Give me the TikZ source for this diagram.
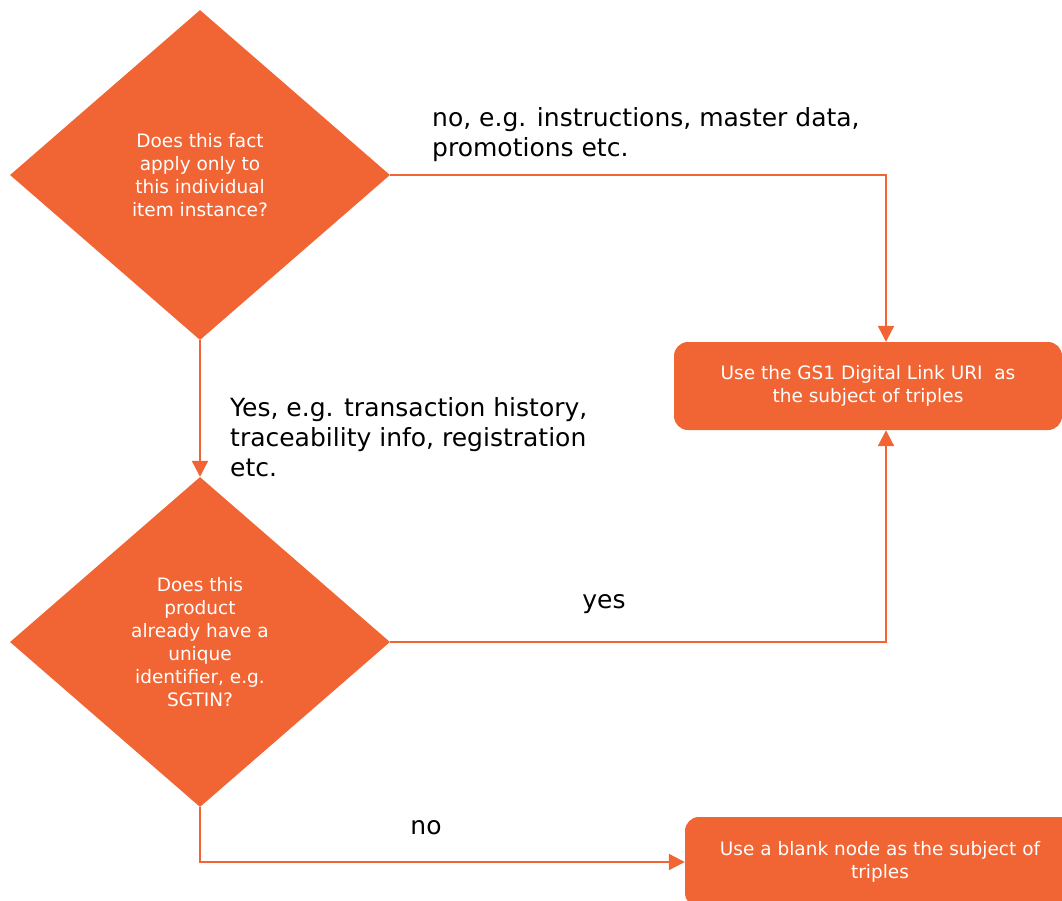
\documentclass[tikz,border=0pt]{standalone}
\usepackage{fontspec}
\setmainfont{DejaVu Sans}
\usepackage{tikz}
\usetikzlibrary{shapes.geometric, arrows.meta, positioning}
\definecolor{gsOrange}{RGB}{241, 101, 53}

\begin{document}
\begin{tikzpicture}[
  x=1pt, y=-1pt,
  decision/.style={
    diamond, fill=gsOrange, draw=none, inner sep=0pt,
    minimum width=380pt, minimum height=330pt,
    align=center, text=white, font=\fontsize{18.5}{23}\selectfont
  },
  outcome/.style={
    rectangle, rounded corners=14pt, fill=gsOrange, draw=none,
    minimum width=388pt, minimum height=88pt,
    align=center, text=white, font=\fontsize{18.5}{22.5}\selectfont
  },
  flow/.style={draw=gsOrange, line width=2.2pt},
  note/.style={align=left, font=\fontsize{25}{30}\selectfont, inner sep=0pt},
  >={Triangle[width=16pt,length=16pt]}
]
\useasboundingbox (0,0) rectangle (1062,900);

\node[decision] (instance) at (200,175) {Does this fact\\apply only to\\this individual\\item instance?};
\node[decision] (serial) at (200,642) {Does this\\product\\already have a\\unique\\identifier, e.g.\\SGTIN?};
\node[outcome] (dlink) at (868,386) {Use the GS1 Digital Link URI~ as\\the subject of triples};
\node[outcome, minimum width=390pt, minimum height=90pt] (blank) at (880,862) {Use a blank node as the subject of\\triples};

\draw[flow, ->] (instance.east) -| ([xshift=18pt]dlink.north);
\draw[flow, ->] (instance.south) -- (serial.north);
\draw[flow, ->] (serial.east) -| ([xshift=18pt]dlink.south);
\draw[flow, ->] (serial.south) |- (blank.west);

\node[note, anchor=north west] (nolabel) at (432,107) {no, e.g. instructions, master data,\\promotions etc.};
\node[note, anchor=north west] (yeslabel) at (230,397) {Yes, e.g. transaction history,\\traceability info, registration\\etc.};
\node[note] (yesid) at (604,604) {yes};
\node[note] (noid) at (426,828) {no};
\end{tikzpicture}
\end{document}
